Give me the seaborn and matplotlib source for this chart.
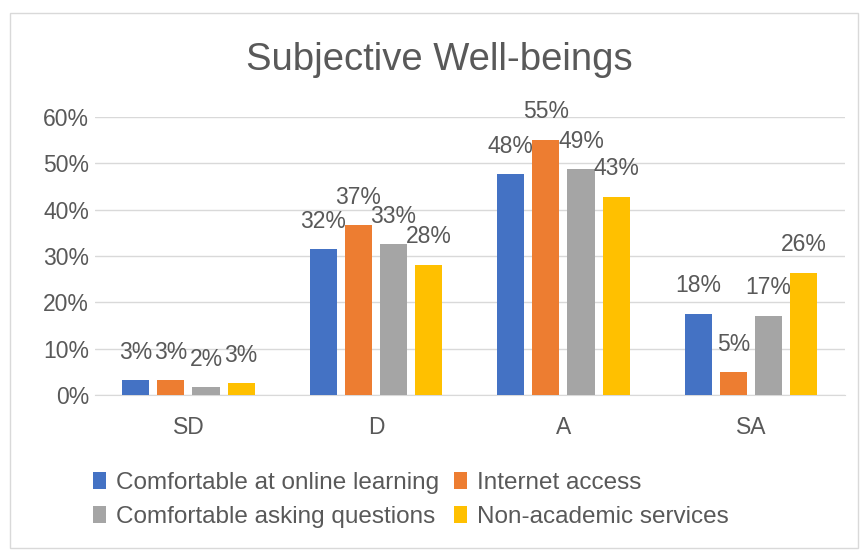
import seaborn as sns
import matplotlib.pyplot as plt
import pandas as pd

categories = ["SD", "D", "A", "SA"]
series = ["Comfortable at online learning", "Internet access",
          "Comfortable asking questions", "Non-academic services"]
online_learning = [0.032, 0.315, 0.477, 0.176]
internet_access = [0.032, 0.367, 0.551, 0.050]
asking_questions = [0.017, 0.326, 0.487, 0.171]
non_academic = [0.026, 0.281, 0.428, 0.264]
y_ticks = [0, 0.1, 0.2, 0.3, 0.4, 0.5, 0.6]
colors = ["#4472C4", "#ED7D31", "#A5A5A5", "#FFC000"]

rows = []
for name, vals in zip(series, [online_learning, internet_access, asking_questions, non_academic]):
    for cat, v in zip(categories, vals):
        rows.append({"cat": cat, "series": name, "value": v})
df = pd.DataFrame(rows)

sns.set_style("white")
plt.rcParams["font.family"] = ["Liberation Sans", "DejaVu Sans"]
txt = "#595959"
fs = 16.5

fig = plt.figure(figsize=(8.61, 5.52), dpi=100)
ax = fig.add_axes([0.110, 0.284, 0.871, 0.504])

sns.barplot(data=df, x="cat", y="value", hue="series", order=categories,
            hue_order=series, palette=colors, saturation=1, width=0.75, gap=0.23,
            linewidth=0, ax=ax, zorder=3)

for cont in ax.containers:
    for bar in cont:
        h = bar.get_height()
        ax.annotate(f"{round(h * 100):.0f}%", (bar.get_x() + bar.get_width() / 2, h),
                    xytext=(0, 28), textcoords="offset pixels", ha="center", va="center",
                    fontsize=fs, color=txt, clip_on=False, zorder=4)

ax.set_ylim(0, 0.6)
ax.set_yticks(y_ticks)
ax.set_yticklabels([f"{int(t * 100)}%" for t in y_ticks], fontsize=fs, color=txt)
ax.tick_params(axis="x", labelsize=fs, labelcolor=txt, pad=15, length=0)
ax.tick_params(axis="y", length=0, pad=4)
ax.set_xlabel("")
ax.set_ylabel("")
ax.grid(axis="y", color="#D9D9D9", linewidth=1, zorder=0)
for s in ["top", "right", "left"]:
    ax.spines[s].set_visible(False)
ax.spines["bottom"].set_color("#D9D9D9")

fig.text(0.51, 0.891, "Subjective Well-beings", ha="center", va="center",
         fontsize=27.5, color=txt)

handles, labels = ax.get_legend_handles_labels()
ax.legend_.remove()
order = [0, 2, 1, 3]
fig.legend([handles[i] for i in order], [labels[i] for i in order], ncol=2,
           loc="upper left", bbox_to_anchor=(0.108, 0.145), frameon=False,
           fontsize=17.5, labelcolor=txt, handlelength=0.55, handleheight=0.7,
           handletextpad=0.4, columnspacing=0.6, labelspacing=0.5,
           borderaxespad=0, borderpad=0)

fig.patches.append(plt.Rectangle((0.012, 0.007), 0.984, 0.97, transform=fig.transFigure,
                                 fill=False, edgecolor="#D9D9D9", linewidth=1))

fig.savefig("out.png", dpi=100)
